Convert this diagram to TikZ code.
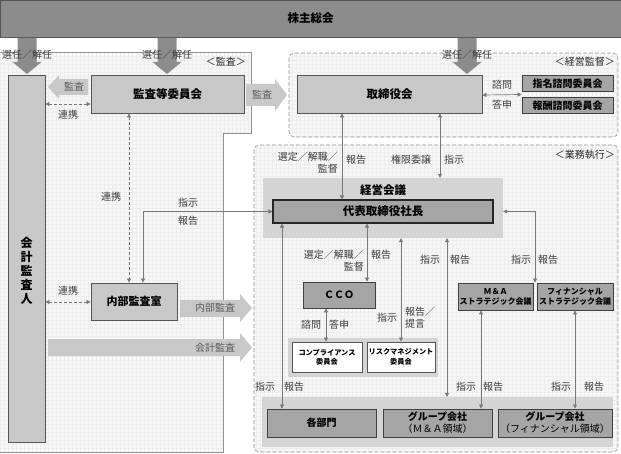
\documentclass[tikz,border=0pt]{standalone}
\usepackage{fontspec}
\setmainfont{Noto Sans CJK JP}
\usetikzlibrary{arrows.meta,calc}
\definecolor{topgray}{RGB}{140,140,140}
\definecolor{boxlight}{RGB}{200,200,200}
\definecolor{boxdark}{RGB}{165,165,165}
\definecolor{boxline}{RGB}{85,85,85}
\definecolor{areagray}{RGB}{212,212,212}
\definecolor{arrowlight}{RGB}{200,200,200}
\definecolor{lineg}{RGB}{120,120,120}
\definecolor{labeltext}{RGB}{60,60,60}
\definecolor{paper}{RGB}{247,247,247}
\definecolor{gridline}{RGB}{237,237,237}
\definecolor{zoneline}{RGB}{145,145,145}

\begin{document}
\begin{tikzpicture}[x=1pt, y=-1pt,
    lightbox/.style={draw=boxline, line width=0.8pt, fill=boxlight, inner sep=1pt, font=\bfseries\fontsize{11.5}{13}\selectfont},
    darkbox/.style={lightbox, fill=boxdark, draw=black!75},
    whitebox/.style={lightbox, fill=white, align=center, font=\bfseries\fontsize{7.2}{9.5}\selectfont},
    area/.style={fill=areagray, inner sep=0pt},
    conn/.style={draw=lineg, line width=0.7pt, >={Triangle[length=4pt,width=4pt]}, <->},
    link/.style={conn, dash pattern=on 3pt off 2pt},
    lbl/.style={text=labeltext, font=\fontsize{10}{12}\selectfont, inner sep=1pt},
    zonelbl/.style={lbl, text=black!85, anchor=east},
    bigarrow/.style={fill=topgray},
    softarrow/.style={fill=arrowlight},
    zone/.style={draw=zoneline, dash pattern=on 4pt off 2pt, rounded corners=5pt, line width=0.6pt}
]
\useasboundingbox (0,0) rectangle (621,454);

% Background zones
\begin{scope}
    \clip (0,52) -- (251,52) -- (251,133) -- (223,133) -- (223,452) -- (0,452) -- cycle;
    \fill[paper] (0,52) rectangle (251,452);
    \draw[gridline, step=4pt] (0,52) grid (251,452);
\end{scope}
\draw[zoneline, line width=0.6pt] (0,52) -- (251,52) -- (251,133) -- (223,133) -- (223,452) -- (0,452);
\begin{scope}
    \clip[rounded corners=5pt] (289,53) rectangle (618,137);
    \fill[paper] (289,53) rectangle (618,137);
    \draw[gridline, step=4pt] (289,53) grid (618,137);
\end{scope}
\draw[zone] (289,53) rectangle (618,137);
\begin{scope}
    \clip[rounded corners=5pt] (254,145) rectangle (618,452);
    \fill[paper] (254,145) rectangle (618,452);
    \draw[gridline, step=4pt] (254,145) grid (618,452);
\end{scope}
\draw[zone] (254,145) rectangle (618,452);

\node[zonelbl] (zoneAudit) at (247,62) {＜監査＞};
\node[zonelbl] (zoneSuper) at (616,62) {＜経営監督＞};
\node[zonelbl] (zoneExec) at (616,155) {＜業務執行＞};

% Shareholders and election arrows
\node[fill=topgray, draw=boxline, minimum width=621, minimum height=37, inner sep=0pt, font=\bfseries\fontsize{11.5}{13}\selectfont] (gm) at (310.5,18.5) {株主総会};
\foreach \cx in {27,167,467} {
    \fill[bigarrow] ({\cx-9.5},38) -- ({\cx+9.5},38) -- ({\cx+9.5},62) -- ({\cx+14.5},62) -- (\cx,74) -- ({\cx-14.5},62) -- ({\cx-9.5},62) -- cycle;
    \node[lbl] (elect\cx) at (\cx,55) {選任／解任};
}

% Audit arrows
\fill[softarrow] (88,79) -- (59,79) -- (59,75) -- (48,87) -- (59,99) -- (59,95) -- (88,95) -- cycle;
\node[lbl, text=black!65] (auditL) at (74,87) {監査};
\fill[softarrow] (246,84) -- (275,84) -- (275,79) -- (287,95) -- (275,111) -- (275,106) -- (246,106) -- cycle;
\node[lbl, text=black!65] (auditR) at (262,95) {監査};
\fill[softarrow] (180,300) -- (240,300) -- (240,294) -- (252,308) -- (240,322) -- (240,317) -- (180,317) -- cycle;
\node[lbl, text=black!65] (auditInt) at (215,308) {内部監査};
\fill[softarrow] (48,339) -- (240,339) -- (240,333) -- (252,347.5) -- (240,362) -- (240,356) -- (48,356) -- cycle;
\node[lbl, text=black!65] (auditAcc) at (215,348) {会計監査};

% Audit side boxes
\node[lightbox, minimum width=37, minimum height=367,
      label={[name=auditorT, yshift=-12pt, align=center, font=\bfseries\fontsize{12}{14}\selectfont]center:会\\計\\監\\査\\人}] (auditor) at (26.5,258.5) {};
\node[lightbox, minimum width=153, minimum height=38] (board) at (167.5,94) {監査等委員会};
\node[lightbox, minimum width=86, minimum height=37, font=\bfseries\fontsize{11}{13}\selectfont] (internal) at (134,301.5) {内部監査室};

% Supervision boxes
\node[lightbox, minimum width=185, minimum height=38] (directors) at (389.5,94) {取締役会};
\node[darkbox, minimum width=91, minimum height=16, font=\bfseries\fontsize{10}{11}\selectfont] (nomination) at (567.5,83.5) {指名諮問委員会};
\node[darkbox, minimum width=91, minimum height=16, font=\bfseries\fontsize{10}{11}\selectfont] (remuneration) at (567.5,105.5) {報酬諮問委員会};

% Execution boxes
\node[area, minimum width=240, minimum height=60] (council) at (383,208) {};
\node[inner sep=0pt, font=\bfseries\fontsize{11.5}{13}\selectfont] (councilT) at (383,190) {経営会議};
\node[darkbox, draw=black!85, line width=1.1pt, minimum width=220, minimum height=23] (ceo) at (383,211.5) {代表取締役社長};
\node[darkbox, minimum width=72, minimum height=26, font=\bfseries\fontsize{10}{12}\selectfont] (cco) at (339,295) {ＣＣＯ};
\node[area, minimum width=150, minimum height=39] (cmtarea) at (363,357.5) {};
\node[whitebox, minimum width=70, minimum height=30] (compliance) at (327,357) {コンプライアンス\\委員会};
\node[whitebox, minimum width=68, minimum height=30] (risk) at (401,357) {リスクマネジメント\\委員会};
\node[darkbox, align=center, minimum width=75, minimum height=27, font=\bfseries\fontsize{8}{10}\selectfont] (mna) at (495.5,296.5) {Ｍ＆Ａ\\ストラテジック会議};
\node[darkbox, align=center, minimum width=76, minimum height=27, font=\bfseries\fontsize{8}{10}\selectfont] (finance) at (575,296.5) {フィナンシャル\\ストラテジック会議};
\node[area, minimum width=351, minimum height=50] (grouparea) at (437.5,422) {};
\node[darkbox, minimum width=109, minimum height=28, font=\bfseries\fontsize{10}{12}\selectfont] (depts) at (321.5,423) {各部門};
\node[darkbox, align=center, minimum width=109, minimum height=28, font=\fontsize{10}{12}\selectfont] (groupma) at (437.5,423) {{\bfseries グループ会社}\\（Ｍ＆Ａ領域）};
\node[darkbox, align=center, minimum width=114, minimum height=28, font=\fontsize{10}{12}\selectfont] (groupfin) at (555,423) {{\bfseries グループ会社}\\（フィナンシャル領域）};

% Connectors
\draw[link] (auditor.east |- 0,104) -- (board.west |- 0,104);
\draw[link] (auditor.east |- 0,302) -- (internal.west |- 0,302);
\draw[link] (board.south -| 129,0) -- (internal.north -| 129,0);
\draw[conn] (internal.north -| 143,0) |- (ceo.west);
\draw[conn] (directors.south -| 342,0) -- (ceo.north -| 342,0);
\draw[conn] (directors.south -| 440,0) -- (council.north -| 440,0);
\draw[conn] (directors.east |- 0,95) -- ($(nomination.south west)!0.5!(remuneration.north west)$);
\draw[conn] (ceo.south -| 282,0) -- (depts.north -| 282,0);
\draw[conn] (ceo.south -| 367,0) -- (cco.north -| 367,0);
\draw[conn] (council.south -| 401,0) -- (risk.north -| 401,0);
\draw[conn] (cco.south -| 326,0) -- (compliance.north -| 326,0);
\draw[conn] (council.south -| 447,0) -- (grouparea.north -| 447,0);
\draw[conn] (council.east |- ceo.east) -| ($(mna.north east)!0.5!(finance.north west)$);
\draw[conn] (mna.south -| 481,0) -- (groupma.north -| 481,0);
\draw[conn] (finance.south -| 575,0) -- (groupfin.north -| 575,0);

% Connector labels
\node[lbl] (boardLink) at (68,115) {連携};
\node[lbl] (internalLink) at (68,291) {連携};
\node[lbl] (auditLink) at (111,197) {連携};
\node[lbl] (ceoOrder) at (188,203) {指示};
\node[lbl] (ceoReport) at (188,221) {報告};
\node[lbl, anchor=east, align=right] (dirSelect) at (339,163) {選定／解職／\\監督};
\node[lbl] (dirReport) at (356,160) {報告};
\node[lbl] (dirDelegate) at (411,160) {権限委譲};
\node[lbl] (dirOrder) at (454,160) {指示};
\node[lbl] (nomConsult) at (502,85) {諮問};
\node[lbl] (nomAnswer) at (502,105) {答申};
\node[lbl, anchor=east, align=right] (ccoSelect) at (365,261) {選定／解職／\\監督};
\node[lbl] (ccoReport) at (381,255) {報告};
\node[lbl] (cmpConsult) at (311,325) {諮問};
\node[lbl] (cmpAnswer) at (339,325) {答申};
\node[lbl] (riskOrder) at (387,318) {指示};
\node[lbl, anchor=west, align=left] (riskReport) at (404,318) {報告／\\提言};
\node[lbl] (councilOrder) at (430,260) {指示};
\node[lbl] (councilReport) at (460,260) {報告};
\node[lbl] (stratOrder) at (521,260) {指示};
\node[lbl] (stratReport) at (548,260) {報告};
\node[lbl] (deptOrder) at (265,387) {指示};
\node[lbl] (deptReport) at (294,387) {報告};
\node[lbl] (maOrder) at (466,387) {指示};
\node[lbl] (maReport) at (493,387) {報告};
\node[lbl] (finOrder) at (561,387) {指示};
\node[lbl] (finReport) at (594,387) {報告};
\end{tikzpicture}
\end{document}
